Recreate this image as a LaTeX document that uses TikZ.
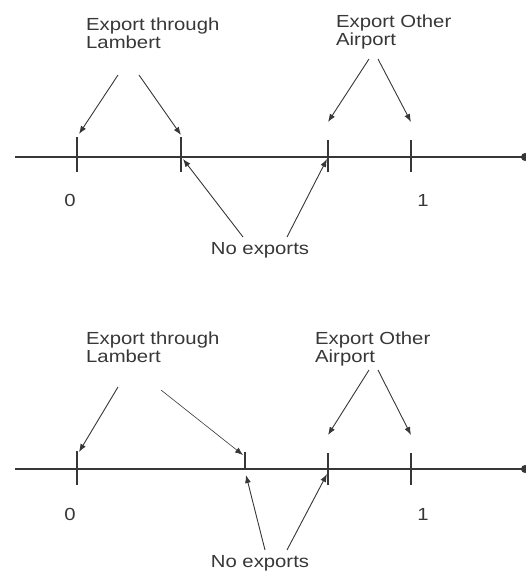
\documentclass[tikz,border=0pt]{standalone}
\usepackage{fontspec}
\usetikzlibrary{arrows.meta}
\newfontfamily\lblfont[FakeStretch=1.16]{Liberation Sans}
\definecolor{ink}{RGB}{55,55,55}

\tikzset{
    lbl/.style={font=\lblfont\fontsize{17.5}{18}\selectfont, inner sep=0pt, align=left, text=ink},
    axisline/.style={ink, line width=1.1pt},
    tickline/.style={ink, line width=1.1pt},
    pointer/.style={ink, line width=0.9pt, -{Latex[length=8pt,width=6pt]}},
    thinpointer/.style={ink, line width=0.6pt, -{Latex[length=8pt,width=6pt]}}
}

\begin{document}
\begin{tikzpicture}[x=1pt, y=-1pt]
    \useasboundingbox (0,0) rectangle (526,571);

    % ---- upper line ----
    \draw[axisline] (15,157) -- (523,157);
    \fill[ink] (525,157) circle (4pt);
    \foreach \tx/\ta/\tb in {77/137/172, 181/137/172, 328/140/172, 411/140/172} {
        \draw[tickline] (\tx,\ta) -- (\tx,\tb);
    }
    \node[lbl, anchor=north] (zeroA) at (70,194) {0};
    \node[lbl, anchor=north] (oneA) at (423,194) {1};

    \node[lbl, anchor=north west] (lambA) at (86,18) {Export through\\Lambert};
    \node[lbl, anchor=north west] (otherA) at (336,15) {Export Other\\Airport};
    \node[lbl] (noneA) at (260,250) {No exports};

    \coordinate (lambA1) at (118,75);
    \coordinate (lambA2) at (139,75);
    \coordinate (otherA1) at (369,59);
    \coordinate (otherA2) at (378,59);
    \coordinate (noneA1) at (243,237);
    \coordinate (noneA2) at (287,237);
    \coordinate (hitA1) at (79,134);
    \coordinate (hitA2) at (181,135);
    \coordinate (hitA3) at (328,122);
    \coordinate (hitA4) at (411,122);
    \coordinate (hitA5) at (183,159);
    \coordinate (hitA6) at (327,159);

    \draw[pointer] (lambA1) -- (hitA1);
    \draw[pointer] (lambA2) -- (hitA2);
    \draw[pointer] (otherA1) -- (hitA3);
    \draw[pointer] (otherA2) -- (hitA4);
    \draw[pointer] (noneA1) -- (hitA5);
    \draw[pointer] (noneA2) -- (hitA6);

    % ---- lower line ----
    \draw[axisline] (15,469) -- (523,469);
    \fill[ink] (525,469) circle (4pt);
    \foreach \tx/\ta/\tb in {77/451/485, 245/452/469, 328/453/485, 411/453/485} {
        \draw[tickline] (\tx,\ta) -- (\tx,\tb);
    }
    \node[lbl, anchor=north] (zeroB) at (70,508) {0};
    \node[lbl, anchor=north] (oneB) at (423,508) {1};

    \node[lbl, anchor=north west] (lambB) at (86,332) {Export through\\Lambert};
    \node[lbl, anchor=north west] (otherB) at (315,332) {Export Other\\Airport};
    \node[lbl] (noneB) at (260,563) {No exports};

    \coordinate (lambB1) at (118,387);
    \coordinate (lambB2) at (161,390);
    \coordinate (otherB1) at (369,370);
    \coordinate (otherB2) at (378,370);
    \coordinate (noneB1) at (265,550);
    \coordinate (noneB2) at (287,550);
    \coordinate (hitB1) at (79,452);
    \coordinate (hitB2) at (243,455);
    \coordinate (hitB3) at (328,435);
    \coordinate (hitB4) at (411,435);
    \coordinate (hitB5) at (246,475);
    \coordinate (hitB6) at (327,474);

    \draw[pointer] (lambB1) -- (hitB1);
    \draw[thinpointer] (lambB2) -- (hitB2);
    \draw[pointer] (otherB1) -- (hitB3);
    \draw[pointer] (otherB2) -- (hitB4);
    \draw[pointer] (noneB1) -- (hitB5);
    \draw[pointer] (noneB2) -- (hitB6);
\end{tikzpicture}
\end{document}
